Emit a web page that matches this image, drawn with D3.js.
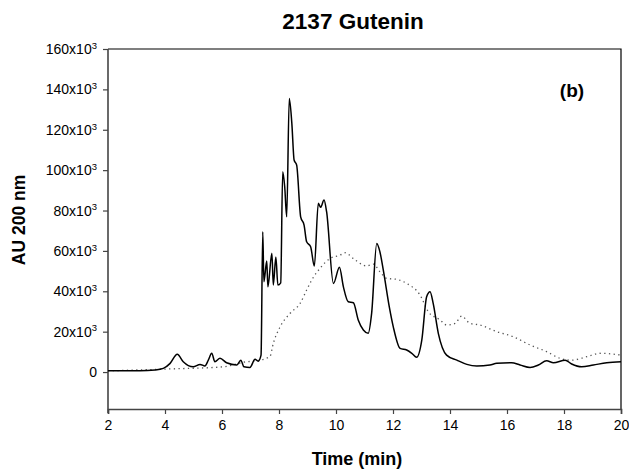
<!DOCTYPE html>
<html>
<head>
<meta charset="utf-8">
<script src="https://cdn.jsdelivr.net/npm/d3@7"></script>
<style>
  html, body { margin: 0; padding: 0; background: #fff; }
  svg text { font-family: "Liberation Sans", Arial, Helvetica, sans-serif; fill: #000; }
</style>
</head>
<body>
<svg id="chart" width="629" height="472"></svg>
<script>
// Chromatogram of glutenin fraction, absorbance at 200 nm (values in units of 10^3 AU)
const title = "2137 Gutenin";
const panelLabel = "(b)";
const xLabel = "Time (min)";
const yLabel = "AU 200 nm";

const xTicks = [2, 4, 6, 8, 10, 12, 14, 16, 18, 20];
const yTicks = [0, 20, 40, 60, 80, 100, 120, 140, 160];

// solid trace
const solidTime = [2.00, 3.12, 3.65, 3.94, 4.18, 4.43, 4.64, 4.99, 5.23, 5.40, 5.52, 5.64, 5.75, 5.93, 6.16, 6.52, 6.66, 6.77, 6.98, 7.16, 7.27, 7.37,
  7.43, 7.47, 7.57, 7.61, 7.75, 7.80, 7.89, 7.96, 8.06, 8.13, 8.20, 8.27, 8.36, 8.45, 8.53, 8.62, 8.76, 8.88, 8.97, 9.11, 9.24,
  9.38, 9.46, 9.58, 9.67, 9.91, 10.12, 10.26, 10.43, 10.61, 10.78, 10.96, 11.13, 11.25, 11.43, 11.54, 11.66, 11.87, 12.01,
  12.25, 12.48, 12.66, 12.83, 13.01, 13.18, 13.30, 13.41, 13.59, 13.88, 14.24, 14.59, 14.94, 15.40, 15.64, 16.16, 16.46,
  16.81, 17.10, 17.39, 17.63, 18.04, 18.27, 18.62, 19.03, 19.50, 20.00];
const solidAU = [0.6, 0.6, 1.0, 1.8, 4.3, 8.8, 5.1, 2.6, 3.8, 3.0, 5.9, 9.3, 5.1, 6.8, 4.6, 3.5, 5.9, 2.6, 2.3, 6.3, 5.4, 8.4,
  69.5, 44.7, 55.0, 42.2, 58.9, 43.1, 57.0, 43.1, 44.2, 99.2, 91.8, 76.9, 135.5, 123.3, 105.0, 102.5, 76.9, 72.8, 64.5, 62.1, 52.5,
  83.6, 81.6, 85.2, 79.4, 43.9, 51.9, 42.2, 34.8, 34.3, 25.8, 20.8, 19.2, 29.1, 63.7, 59.6, 50.5, 32.3, 22.4,
  11.7, 10.9, 9.3, 7.3, 15.8, 37.3, 39.8, 34.0, 19.2, 8.4, 5.9, 3.8, 3.0, 3.5, 4.3, 4.6, 3.5,
  2.3, 3.5, 5.6, 4.6, 5.9, 4.0, 2.6, 3.5, 4.6, 5.1];

// dotted trace
const dottedTime = [2.00, 4.06, 6.05, 6.87, 7.10, 7.68, 7.80, 8.04, 8.39, 8.74, 8.97, 9.15, 9.44, 9.79, 10.14, 10.32, 10.67, 11.08,
  11.31, 11.54, 11.78, 12.13, 12.48, 12.95, 13.24, 13.65, 13.88, 14.18, 14.41, 14.70, 15.05, 15.64, 16.22, 16.81, 17.39,
  17.86, 18.27, 18.80, 19.26, 20.00];
const dottedAU = [0.6, 1.5, 2.6, 5.1, 5.4, 7.6, 14.2, 22.4, 29.1, 34.0, 40.6, 45.6, 51.4, 56.3, 57.9, 59.1, 55.5, 52.5,
  53.5, 49.7, 46.4, 45.9, 43.9, 38.1, 29.9, 25.8, 23.3, 24.1, 27.7, 24.1, 23.3, 20.0, 17.5, 13.4, 10.1,
  6.8, 5.9, 7.6, 9.3, 8.4];

const svg = d3.select("#chart");
const margin = { top: 49, right: 8, bottom: 63, left: 108 };
const W = 629, H = 472;

const x = d3.scaleLinear().domain([2, 20]).range([margin.left, W - margin.right]);
const y = d3.scaleLinear().domain([-18.3, 160]).range([H - margin.bottom, margin.top]);

// frame (top and right)
svg.append("path")
  .attr("d", `M${x(2)},${y(160)}H${x(20)}V${y(-18.3)}`)
  .attr("fill", "none").attr("stroke", "#000").attr("stroke-width", 1.2);

// bottom axis
const xAxis = svg.append("g")
  .attr("transform", `translate(0,${y(-18.3)})`)
  .call(d3.axisBottom(x).tickValues(xTicks).tickSize(5).tickPadding(6).tickFormat(d3.format("d")));
xAxis.select(".domain").attr("stroke", "#444").attr("stroke-width", 1.6);
xAxis.selectAll(".tick line").attr("stroke", "#444").attr("stroke-width", 1.2);
xAxis.selectAll(".tick text").attr("font-size", 14);

// left axis
const yAxis = svg.append("g")
  .attr("transform", `translate(${x(2)},0)`)
  .call(d3.axisLeft(y).tickValues(yTicks).tickSize(5).tickPadding(6).tickFormat(() => ""));
yAxis.select(".domain").attr("stroke", "#444").attr("stroke-width", 1.6)
  .attr("d", `M0,${y(160)}V${y(-18.3) + 4}`);
yAxis.selectAll(".tick line").attr("stroke", "#444").attr("stroke-width", 1.2);
yAxis.selectAll(".tick text").each(function(d) {
  const t = d3.select(this).attr("font-size", 14);
  if (d === 0) { t.text("0"); return; }
  t.text(null);
  t.append("tspan").text(`${d}x10`);
  t.append("tspan").attr("font-size", 9.5).attr("dy", "-0.55em").text("3");
});

// traces
const line = d3.line().x(d => x(d[0])).y(d => y(d[1])).curve(d3.curveMonotoneX);

svg.append("path")
  .datum(dottedTime.map((t, i) => [t, dottedAU[i]]))
  .attr("d", line)
  .attr("fill", "none").attr("stroke", "#555").attr("stroke-width", 1.3)
  .attr("stroke-dasharray", "1.3,3.4");

svg.append("path")
  .datum(solidTime.map((t, i) => [t, solidAU[i]]))
  .attr("d", line)
  .attr("fill", "none").attr("stroke", "#000").attr("stroke-width", 1.5)
  .attr("stroke-linejoin", "round");

// labels
svg.append("text").attr("x", 353).attr("y", 29).attr("text-anchor", "middle")
  .attr("font-size", 22.5).attr("font-weight", "bold").text(title);
svg.append("text").attr("x", 572).attr("y", 97).attr("text-anchor", "middle")
  .attr("font-size", 19).attr("font-weight", "bold").text(panelLabel);
svg.append("text").attr("x", 357).attr("y", 465).attr("text-anchor", "middle")
  .attr("font-size", 18).attr("font-weight", "bold").text(xLabel);
svg.append("text").attr("transform", "translate(25,220) rotate(-90)").attr("text-anchor", "middle")
  .attr("font-size", 17.5).attr("font-weight", "bold").text(yLabel);
</script>
</body>
</html>
